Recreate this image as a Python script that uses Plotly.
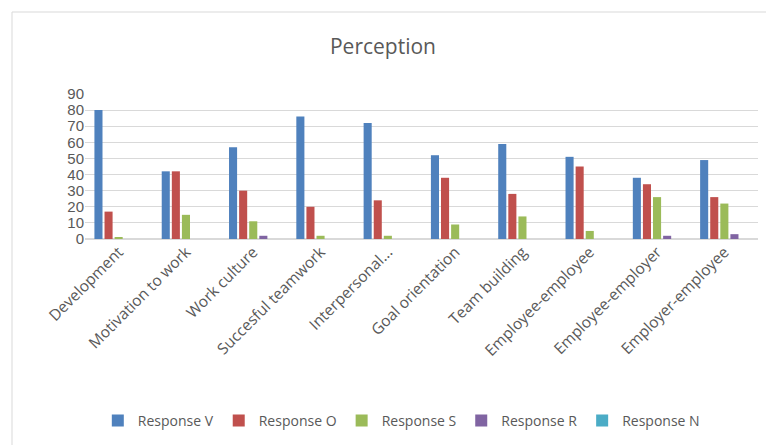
import plotly.graph_objects as go

categories = ["Development", "Motivation to work", "Work culture", "Succesful teamwork",
              "Interpersonal...", "Goal orientation", "Team building", "Employee-employee",
              "Employee-employer", "Employer-employee"]
response_v = [80, 42, 57, 76, 72, 52, 59, 51, 38, 49]
response_o = [17, 42, 30, 20, 24, 38, 28, 45, 34, 26]
response_s = [1, 15, 11, 2, 2, 9, 14, 5, 26, 22]
response_r = [0, 0, 2, 0, 0, 0, 0, 0, 2, 3]
response_n = [0, 0, 0, 0, 0, 0, 0, 0, 0, 0]
y_ticks = [0, 10, 20, 30, 40, 50, 60, 70, 80, 90]

series = [
    ("Response V", response_v, "#4F81BD"),
    ("Response O", response_o, "#C0504D"),
    ("Response S", response_s, "#9BBB59"),
    ("Response R", response_r, "#8064A2"),
    ("Response N", response_n, "#4BACC6"),
]

fig = go.Figure()
for name, vals, col in series:
    fig.add_trace(go.Bar(x=categories, y=vals, name=name,
                         marker=dict(color=col, line=dict(width=0))))

font_fam = "Open Sans, Liberation Sans, sans-serif"
fig.update_layout(
    width=766, height=445,
    margin=dict(l=85, r=8, t=94, b=206),
    paper_bgcolor="white", plot_bgcolor="white",
    barmode="group", bargap=0.25, bargroupgap=0.2,
    title=dict(text="Perception", x=0.5, xanchor="center", y=1 - 47 / 445, yanchor="middle",
               font=dict(family=font_fam, size=21, color="#595959")),
    font=dict(family=font_fam, color="#595959"),
    xaxis=dict(tickangle=-45, tickfont=dict(size=15.5, color="#595959"),
               showgrid=False, showline=False, ticks=""),
    yaxis=dict(range=[0, 90], tickvals=y_ticks, showgrid=True, gridcolor="#D9D9D9",
               gridwidth=1, zeroline=True, zerolinecolor="#D9D9D9",
               tickfont=dict(family="Liberation Sans Narrow, Liberation Sans, sans-serif",
                             size=15, color="#595959"), ticks="", showline=False),
    legend=dict(orientation="h", x=0.47, xanchor="center", y=-182 / 145, yanchor="middle",
                font=dict(size=14, color="#595959"), traceorder="normal", itemwidth=30),
    showlegend=True,
    shapes=[dict(type="rect", xref="paper", yref="paper",
                 x0=-73 / 673, x1=1 + 20 / 673, y0=-230 / 145, y1=1 + 82 / 145,
                 line=dict(color="#D9D9D9", width=1), layer="below")],
)

fig.write_html("out.html")
